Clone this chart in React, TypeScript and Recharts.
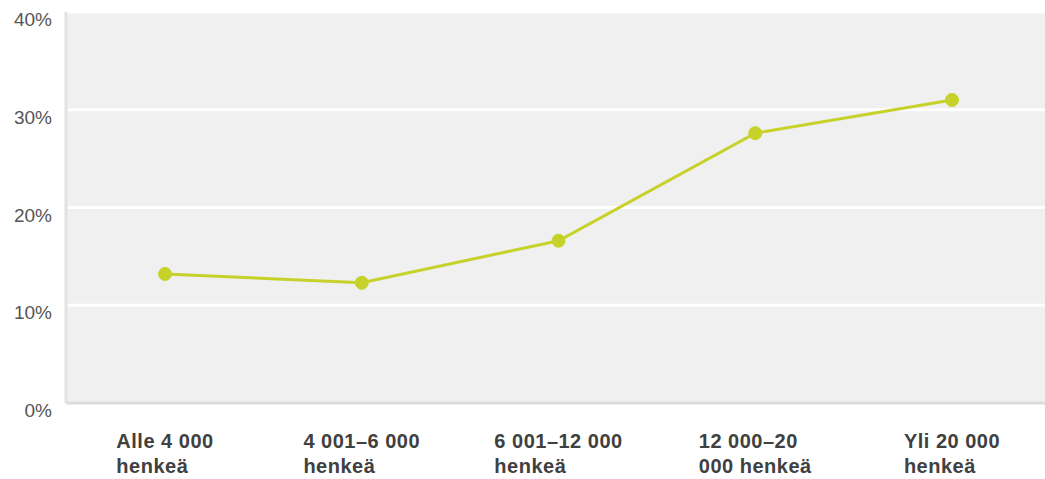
import { LineChart, Line, XAxis, YAxis, CartesianGrid } from 'recharts';

// Osuus kuntakokoluokittain
const categories = ['Alle 4 000|henkeä', '4 001–6 000|henkeä', '6 001–12 000|henkeä', '12 000–20|000 henkeä', 'Yli 20 000|henkeä'];
const values = [13.2, 12.3, 16.6, 27.6, 31.0];
const yTicks = [0, 10, 20, 30, 40];

const LINE_COLOR = '#c6d22a';
const FONT = 'Arial, "Liberation Sans", sans-serif';

const data = categories.map((c, i) => ({ name: c, value: values[i] }));

let ctx: CanvasRenderingContext2D | null = null;
function textWidth(s: string, font: string) {
  if (!ctx) ctx = document.createElement('canvas').getContext('2d');
  if (!ctx) return s.length * 10;
  ctx.font = font;
  return ctx.measureText(s).width;
}

// Two-line labels, left aligned, block centred under the point
function CategoryTick({ x, y, payload }: any) {
  const lines = String(payload.value).split('|');
  const font = `bold 20px ${FONT}`;
  const w = Math.max(...lines.map((l) => textWidth(l, font) + l.length * 0.5));
  const x0 = x - w / 2;
  return (
    <g>
      {lines.map((l, i) => (
        <text key={i} x={x0} y={y + 37 + i * 25} textAnchor="start" fill="#404040" fontSize={20} fontWeight="bold" fontFamily={FONT} letterSpacing={0.5}>
          {l}
        </text>
      ))}
    </g>
  );
}

function PercentTick({ x, y, payload }: any) {
  return (
    <text x={x - 6} y={y + 14} textAnchor="end" fill="#555" fontSize={19} fontFamily={FONT}>
      {payload.value}%
    </text>
  );
}

export default function App() {
  return (
    <div style={{ position: 'absolute', left: 0, top: 0, background: '#fff' }}>
      <LineChart width={1045} height={479} data={data} margin={{ top: 12, right: 0, bottom: 0, left: 0 }}>
        <CartesianGrid fill="#f0f0f0" stroke="#ffffff" strokeWidth={3} vertical={false} />
        <XAxis
          dataKey="name"
          interval={0}
          height={76}
          padding={{ left: 99, right: 93 }}
          axisLine={{ stroke: '#dcdcdc', strokeWidth: 3 }}
          tickLine={false}
          tick={<CategoryTick />}
        />
        <YAxis
          domain={[0, 40]}
          ticks={yTicks}
          width={66}
          axisLine={{ stroke: '#e2e2e2', strokeWidth: 3 }}
          tickLine={false}
          tick={<PercentTick />}
        />
        <Line
          dataKey="value"
          stroke={LINE_COLOR}
          strokeWidth={3}
          dot={{ r: 6.5, fill: LINE_COLOR, stroke: LINE_COLOR, strokeWidth: 1 }}
          activeDot={false}
          isAnimationActive={false}
        />
      </LineChart>
    </div>
  );
}
